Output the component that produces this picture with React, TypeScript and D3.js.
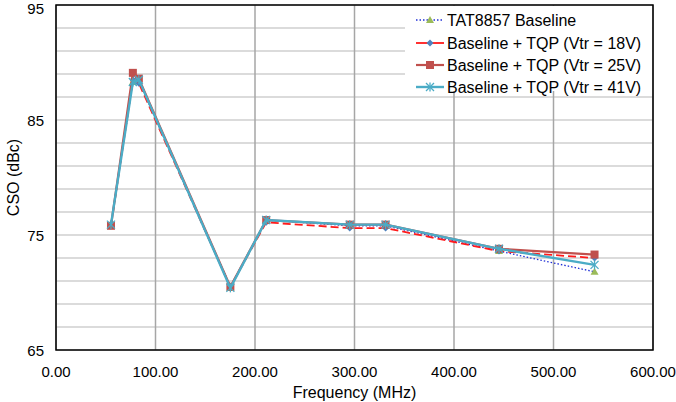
import React from "react";
import * as d3 from "d3";

const freqs = [55.25, 77.25, 83.25, 175.25, 211.25, 295.25, 331.25, 445.25, 541.25];
const baseline = [75.9, 88.3, 88.4, 70.4, 76.3, 75.8, 75.8, 73.6, 71.8];
const tqp18 = [75.8, 88.5, 88.2, 70.5, 76.1, 75.6, 75.6, 73.6, 73.0];
const tqp25 = [75.8, 89.1, 88.6, 70.5, 76.3, 75.9, 75.9, 73.8, 73.3];
const tqp41 = [75.9, 88.3, 88.5, 70.4, 76.3, 75.9, 75.9, 73.8, 72.4];

const seriesNames = [
  "TAT8857 Baseline",
  "Baseline + TQP (Vtr = 18V)",
  "Baseline + TQP (Vtr = 25V)",
  "Baseline + TQP (Vtr = 41V)",
];
const xTicks = [0, 100, 200, 300, 400, 500, 600];
const yLabelTicks = [65, 75, 85, 95];
const yGridTicks = d3.range(65, 96, 2);

const W = 676, H = 402;
const left = 56, right = 653, top = 5, bottom = 350;
const font = "'Liberation Sans', Arial, sans-serif";

type Marker = "triangle" | "diamond" | "square" | "star";
const styles: { color: string; width: number; dash?: string; legendDash?: string; marker: Marker; mcolor: string }[] = [
  { color: "#1f2fd6", width: 1.3, dash: "1.5,2", legendDash: "1.5,2", marker: "triangle", mcolor: "#9bbb59" },
  { color: "#ff1a1a", width: 1.8, dash: "8,4", marker: "diamond", mcolor: "#4f81bd" },
  { color: "#c0504d", width: 2.2, marker: "square", mcolor: "#c0504d" },
  { color: "#4bacc6", width: 2.4, marker: "star", mcolor: "#4bacc6" },
];

function MarkerShape({ kind, x, y, color }: { kind: Marker; x: number; y: number; color: string }) {
  if (kind === "triangle") {
    return <path d={`M${x},${y - 4}L${x + 4},${y + 3}L${x - 4},${y + 3}Z`} fill={color} />;
  }
  if (kind === "diamond") {
    return <path d={`M${x},${y - 3.5}L${x + 3.5},${y}L${x},${y + 3.5}L${x - 3.5},${y}Z`} fill={color} />;
  }
  if (kind === "square") {
    return <rect x={x - 4} y={y - 4} width={8} height={8} fill={color} />;
  }
  return (
    <g stroke={color} strokeWidth={1.3}>
      <line x1={x - 4} y1={y - 4} x2={x + 4} y2={y + 4} />
      <line x1={x - 4} y1={y + 4} x2={x + 4} y2={y - 4} />
      <line x1={x} y1={y - 4.5} x2={x} y2={y + 4.5} />
    </g>
  );
}

export default function App() {
  const x = d3.scaleLinear().domain([0, 600]).range([left, right]);
  const y = d3.scaleLinear().domain([65, 95]).range([bottom, top]);
  const data = [baseline, tqp18, tqp25, tqp41];
  const line = d3
    .line<[number, number]>()
    .x((d) => x(d[0]))
    .y((d) => y(d[1]));

  const legendRows = [20, 43, 65, 87];

  return (
    <svg width={W} height={H} style={{ position: "absolute", left: 0, top: 0, background: "#fff" }}>
      <rect x={0} y={0} width={W} height={H} fill="#fff" />
      {yGridTicks.map((t) => (
        <line key={"h" + t} x1={left} x2={right} y1={y(t)} y2={y(t)} stroke="#cfcfcf" strokeWidth={1.5} />
      ))}
      {xTicks.map((t) => (
        <line key={"v" + t} x1={x(t)} x2={x(t)} y1={top} y2={bottom} stroke="#a6a6a6" strokeWidth={1.5} />
      ))}
      <rect x={405} y={top + 1} width={right - 405 - 1} height={85} fill="#fff" />
      {data.map((vals, i) => {
        const pts = freqs.map((f, j) => [f, vals[j]] as [number, number]);
        const s = styles[i];
        return (
          <g key={"s" + i}>
            <path d={line(pts) || ""} fill="none" stroke={s.color} strokeWidth={s.width} strokeDasharray={s.dash} />
            {pts.map((p, j) => (
              <MarkerShape key={j} kind={s.marker} x={x(p[0])} y={y(p[1])} color={s.mcolor} />
            ))}
          </g>
        );
      })}
      <rect x={left} y={top} width={right - left} height={bottom - top} fill="none" stroke="#000" strokeWidth={1.5} />
      {yLabelTicks.map((t) => (
        <text
          key={"yl" + t}
          x={left - 12}
          y={Math.max(y(t) + 5.5, 14)}
          textAnchor="end"
          fontFamily={font}
          fontSize={15}
          fill="#000"
        >
          {t}
        </text>
      ))}
      {xTicks.map((t) => (
        <text key={"xl" + t} x={x(t)} y={bottom + 27} textAnchor="middle" fontFamily={font} fontSize={15} fill="#000">
          {t.toFixed(2)}
        </text>
      ))}
      <text x={(left + right) / 2} y={398} textAnchor="middle" fontFamily={font} fontSize={16} fill="#000">
        Frequency (MHz)
      </text>
      <text
        transform={`translate(19,${(top + bottom) / 2}) rotate(-90)`}
        textAnchor="middle"
        fontFamily={font}
        fontSize={16}
        fill="#000"
      >
        CSO (dBc)
      </text>
      {seriesNames.map((name, i) => {
        const s = styles[i];
        const ly = legendRows[i];
        return (
          <g key={"lg" + i}>
            <line x1={416} x2={444} y1={ly} y2={ly} stroke={s.color} strokeWidth={s.width} strokeDasharray={s.legendDash} />
            <MarkerShape kind={s.marker} x={430} y={ly} color={s.mcolor} />
            <text x={447} y={ly + 5.5} fontFamily={font} fontSize={16} fill="#000">
              {name}
            </text>
          </g>
        );
      })}
    </svg>
  );
}
